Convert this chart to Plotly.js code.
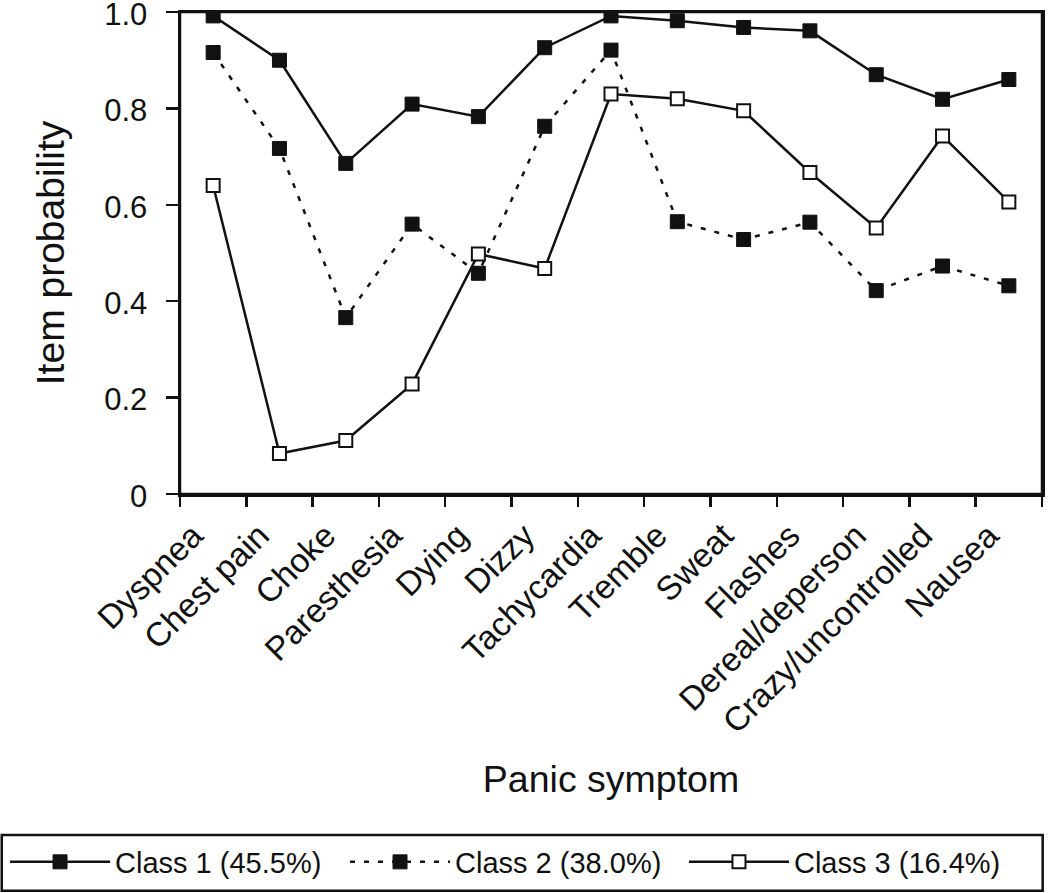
<!DOCTYPE html>
<html>
<head>
<meta charset="utf-8">
<script src="https://cdn.plot.ly/plotly-3.0.1.min.js"></script>
<style>html,body{margin:0;padding:0;background:#fff;}#chart{width:1050px;height:893px;}</style>
</head>
<body>
<div id="chart"></div>
<script>
const symptoms = ["Dyspnea","Chest pain","Choke","Paresthesia","Dying","Dizzy","Tachycardia","Tremble","Sweat","Flashes","Dereal/deperson","Crazy/uncontrolled","Nausea"];
const class1 = [0.992,0.900,0.686,0.809,0.783,0.926,0.992,0.982,0.968,0.961,0.870,0.819,0.860];
const class2 = [0.916,0.717,0.366,0.560,0.458,0.763,0.921,0.565,0.528,0.564,0.422,0.473,0.432];
const class3 = [0.640,0.084,0.111,0.228,0.498,0.468,0.830,0.820,0.795,0.667,0.552,0.743,0.606];
const seriesNames = ["Class 1 (45.5%)","Class 2 (38.0%)","Class 3 (16.4%)"];
const yTickVals = [0,0.2,0.4,0.6,0.8,1.0];
const yTickText = ["0","0.2","0.4","0.6","0.8","1.0"];

const FONT = "Liberation Sans, Arial, sans-serif";
const traces = [
  {x: symptoms, y: class1, name: seriesNames[0], type: "scatter", mode: "lines+markers", legend: "legend",
   line: {color: "#111", width: 2.5},
   marker: {symbol: "square", size: 14, color: "#111", line: {color: "#111", width: 1}}},
  {x: symptoms, y: class2, name: seriesNames[1], type: "scatter", mode: "lines+markers", legend: "legend2",
   line: {color: "#111", width: 2.5, dash: "5px,9px"},
   marker: {symbol: "square", size: 14, color: "#111", line: {color: "#111", width: 1}}},
  {x: symptoms, y: class3, name: seriesNames[2], type: "scatter", mode: "lines+markers", legend: "legend3",
   line: {color: "#111", width: 2.5},
   marker: {symbol: "square", size: 13, color: "#fff", line: {color: "#111", width: 2}}}
];

function legendAt(xPos) {
  return {
    orientation: "h", xref: "container", yref: "container",
    x: xPos, xanchor: "left", y: 0.0347, yanchor: "middle",
    font: {family: FONT, size: 29, color: "#111"},
    bgcolor: "rgba(0,0,0,0)", borderwidth: 0,
    itemwidth: 100, itemclick: false
  };
}

const layout = {
  width: 1050, height: 893,
  margin: {l: 180, r: 8, t: 12, b: 399, autoexpand: false},
  paper_bgcolor: "#fff", plot_bgcolor: "#fff",
  font: {family: FONT, color: "#111"},
  showlegend: true,
  xaxis: {
    type: "category", range: [-0.5, 12.5], tickson: "boundaries",
    ticks: "outside", ticklen: 10, tickwidth: 2.5, tickcolor: "#111",
    showline: true, linecolor: "#111", linewidth: 2.5, mirror: true,
    showgrid: false, zeroline: false, tickangle: -45,
    tickfont: {family: FONT, size: 33.5, color: "#111"},
    ticklabelstandoff: 6, ticklabelshift: -20,
    title: {text: "Panic symptom", font: {family: FONT, size: 37.5, color: "#111"}, standoff: 27},
    automargin: false
  },
  yaxis: {
    range: [0, 1.0001], tickvals: yTickVals, ticktext: yTickText,
    ticks: "outside", ticklen: 12, tickwidth: 2.5, tickcolor: "#111",
    showline: true, linecolor: "#111", linewidth: 2.5, mirror: true,
    showgrid: false, zeroline: false, ticklabeloverflow: "allow",
    tickfont: {family: FONT, size: 31, color: "#111"},
    ticklabelstandoff: 12, ticklabelshift: 2,
    title: {text: "Item probability", font: {family: FONT, size: 39, color: "#111"}, standoff: 28},
    automargin: false
  },
  legend: legendAt(0.0048),
  legend2: legendAt(0.3286),
  legend3: legendAt(0.6514),
  shapes: [
    {type: "rect", xref: "paper", yref: "paper", x0: 0, x1: 1, y0: 0, y1: 1,
     line: {color: "#111", width: 2.5}, fillcolor: "rgba(0,0,0,0)"},
    {type: "rect", xref: "paper", yref: "paper",
     x0: -0.2068, x1: 1.0008, y0: -0.823, y1: -0.7075,
     line: {color: "#111", width: 2.5}, fillcolor: "rgba(0,0,0,0)"}
  ]
};

Plotly.newPlot("chart", traces, layout, {displayModeBar: false, staticPlot: true});
</script>
</body>
</html>
